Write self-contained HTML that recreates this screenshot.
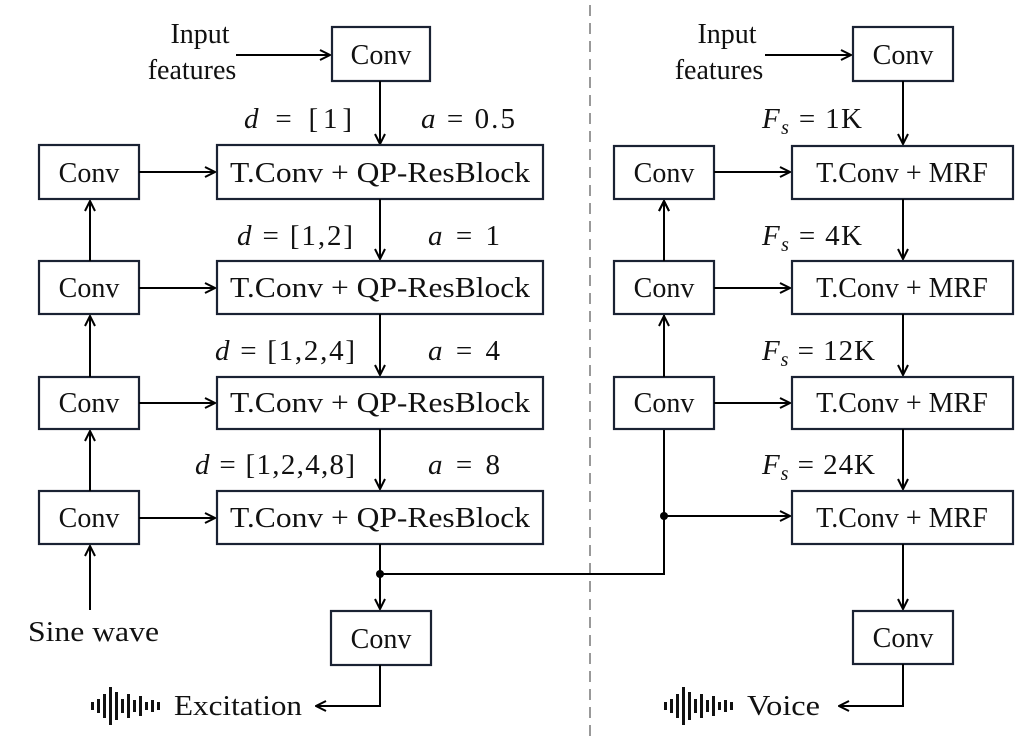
<!DOCTYPE html>
<html><head><meta charset="utf-8"><style>
html,body{margin:0;padding:0;background:#fff;}
svg{display:block;}
text{font-family:"Liberation Serif",serif;fill:#111;}
.bx{fill:#fff;stroke:#1a2233;stroke-width:2.2;}
.ln{stroke:#000;stroke-width:2;fill:none;}
.t{font-size:28px;}
.m{font-size:29px;}
.i{font-style:italic;}
</style></head><body>
<svg width="1025" height="743" viewBox="0 0 1025 743" xmlns="http://www.w3.org/2000/svg">
<defs>
<marker id="a" viewBox="0 0 12 12" refX="11" refY="6" markerWidth="12" markerHeight="12" markerUnits="userSpaceOnUse" orient="auto">
<path d="M1,1 L11,6 L1,11" stroke="#000" stroke-width="2" fill="none"/>
</marker>
</defs>

<line x1="590" y1="5" x2="590" y2="738" stroke="#999" stroke-width="2" stroke-dasharray="11,7"/>

<!-- LEFT -->
<text class="t" x="200" y="43" text-anchor="middle">Input</text>
<text class="t" x="192" y="79" text-anchor="middle">features</text>
<line class="ln" x1="236" y1="55" x2="330" y2="55" marker-end="url(#a)"/>
<rect class="bx" x="332" y="27" width="98" height="54"/>
<text class="t" x="381" y="64" text-anchor="middle">Conv</text>
<line class="ln" x1="380" y1="81" x2="380" y2="144" marker-end="url(#a)"/>

<rect class="bx" x="217" y="145" width="326" height="54"/>
<text class="t" x="230" y="182" textLength="300" lengthAdjust="spacingAndGlyphs">T.Conv + QP-ResBlock</text>
<rect class="bx" x="39" y="145" width="100" height="54"/>
<text class="t" x="89" y="182" text-anchor="middle">Conv</text>
<line class="ln" x1="139" y1="172" x2="215" y2="172" marker-end="url(#a)"/>

<rect class="bx" x="217" y="261" width="326" height="53"/>
<text class="t" x="230" y="297" textLength="300" lengthAdjust="spacingAndGlyphs">T.Conv + QP-ResBlock</text>
<rect class="bx" x="39" y="261" width="100" height="53"/>
<text class="t" x="89" y="297" text-anchor="middle">Conv</text>
<line class="ln" x1="139" y1="288" x2="215" y2="288" marker-end="url(#a)"/>

<rect class="bx" x="217" y="377" width="326" height="52"/>
<text class="t" x="230" y="412" textLength="300" lengthAdjust="spacingAndGlyphs">T.Conv + QP-ResBlock</text>
<rect class="bx" x="39" y="377" width="100" height="52"/>
<text class="t" x="89" y="412" text-anchor="middle">Conv</text>
<line class="ln" x1="139" y1="403" x2="215" y2="403" marker-end="url(#a)"/>

<rect class="bx" x="217" y="491" width="326" height="53"/>
<text class="t" x="230" y="527" textLength="300" lengthAdjust="spacingAndGlyphs">T.Conv + QP-ResBlock</text>
<rect class="bx" x="39" y="491" width="100" height="53"/>
<text class="t" x="89" y="527" text-anchor="middle">Conv</text>
<line class="ln" x1="139" y1="518" x2="215" y2="518" marker-end="url(#a)"/>

<line class="ln" x1="90" y1="261" x2="90" y2="201" marker-end="url(#a)"/>
<line class="ln" x1="90" y1="377" x2="90" y2="316" marker-end="url(#a)"/>
<line class="ln" x1="90" y1="491" x2="90" y2="431" marker-end="url(#a)"/>
<line class="ln" x1="90" y1="610" x2="90" y2="546" marker-end="url(#a)"/>
<text x="28" y="641" font-size="29" textLength="131" lengthAdjust="spacingAndGlyphs">Sine wave</text>

<line class="ln" x1="380" y1="199" x2="380" y2="259" marker-end="url(#a)"/>
<line class="ln" x1="380" y1="314" x2="380" y2="375" marker-end="url(#a)"/>
<line class="ln" x1="380" y1="429" x2="380" y2="489" marker-end="url(#a)"/>
<line class="ln" x1="380" y1="544" x2="380" y2="609" marker-end="url(#a)"/>
<circle cx="380" cy="574" r="4" fill="#000"/>
<polyline class="ln" points="380,574 664,574 664,201" marker-end="url(#a)"/>

<text class="m" x="244" y="128" textLength="108" lengthAdjust="spacing"><tspan class="i">d</tspan> = [1]</text>
<text class="m" x="421" y="128" textLength="94" lengthAdjust="spacing"><tspan class="i">a</tspan> = 0.5</text>
<text class="m" x="237" y="245" textLength="116" lengthAdjust="spacing"><tspan class="i">d</tspan> = [1,2]</text>
<text class="m" x="428" y="245" textLength="72" lengthAdjust="spacing"><tspan class="i">a</tspan> = 1</text>
<text class="m" x="215" y="360" textLength="140" lengthAdjust="spacing"><tspan class="i">d</tspan> = [1,2,4]</text>
<text class="m" x="428" y="360" textLength="72" lengthAdjust="spacing"><tspan class="i">a</tspan> = 4</text>
<text class="m" x="195" y="474" textLength="160" lengthAdjust="spacing"><tspan class="i">d</tspan> = [1,2,4,8]</text>
<text class="m" x="428" y="474" textLength="72" lengthAdjust="spacing"><tspan class="i">a</tspan> = 8</text>

<rect class="bx" x="331" y="611" width="100" height="54"/>
<text class="t" x="381" y="648" text-anchor="middle">Conv</text>
<polyline class="ln" points="380,665 380,706 316,706" marker-end="url(#a)"/>
<text x="174" y="715" font-size="29" textLength="128" lengthAdjust="spacingAndGlyphs">Excitation</text>
<g fill="#111">
<rect x="91" y="702" width="3" height="8"/><rect x="97" y="699" width="3" height="14"/><rect x="103" y="694" width="3" height="24"/>
<rect x="109" y="687" width="3" height="38"/><rect x="115" y="692" width="3" height="28"/><rect x="121" y="699" width="3" height="14"/>
<rect x="127" y="694" width="3" height="24"/><rect x="133" y="700" width="3" height="12"/><rect x="139" y="696" width="3" height="20"/>
<rect x="145" y="702" width="3" height="8"/><rect x="151" y="700" width="3" height="12"/><rect x="157" y="702" width="3" height="8"/>
</g>

<!-- RIGHT -->
<text class="t" x="727" y="43" text-anchor="middle">Input</text>
<text class="t" x="719" y="79" text-anchor="middle">features</text>
<line class="ln" x1="765" y1="55" x2="851" y2="55" marker-end="url(#a)"/>
<rect class="bx" x="853" y="27" width="100" height="54"/>
<text class="t" x="903" y="64" text-anchor="middle">Conv</text>
<line class="ln" x1="903" y1="81" x2="903" y2="144" marker-end="url(#a)"/>

<rect class="bx" x="792" y="146" width="221" height="53"/>
<text class="t" x="902" y="182" text-anchor="middle">T.Conv + MRF</text>
<rect class="bx" x="614" y="146" width="100" height="53"/>
<text class="t" x="664" y="182" text-anchor="middle">Conv</text>
<line class="ln" x1="714" y1="172" x2="790" y2="172" marker-end="url(#a)"/>

<rect class="bx" x="792" y="261" width="221" height="53"/>
<text class="t" x="902" y="297" text-anchor="middle">T.Conv + MRF</text>
<rect class="bx" x="614" y="261" width="100" height="53"/>
<text class="t" x="664" y="297" text-anchor="middle">Conv</text>
<line class="ln" x1="714" y1="288" x2="790" y2="288" marker-end="url(#a)"/>

<rect class="bx" x="792" y="377" width="221" height="52"/>
<text class="t" x="902" y="412" text-anchor="middle">T.Conv + MRF</text>
<rect class="bx" x="614" y="377" width="100" height="52"/>
<text class="t" x="664" y="412" text-anchor="middle">Conv</text>
<line class="ln" x1="714" y1="403" x2="790" y2="403" marker-end="url(#a)"/>

<rect class="bx" x="792" y="491" width="221" height="53"/>
<text class="t" x="902" y="527" text-anchor="middle">T.Conv + MRF</text>
<circle cx="664" cy="516" r="4" fill="#000"/>
<line class="ln" x1="664" y1="516" x2="790" y2="516" marker-end="url(#a)"/>

<line class="ln" x1="664" y1="261" x2="664" y2="201" marker-end="url(#a)"/>
<line class="ln" x1="664" y1="377" x2="664" y2="316" marker-end="url(#a)"/>

<line class="ln" x1="903" y1="199" x2="903" y2="259" marker-end="url(#a)"/>
<line class="ln" x1="903" y1="314" x2="903" y2="375" marker-end="url(#a)"/>
<line class="ln" x1="903" y1="429" x2="903" y2="489" marker-end="url(#a)"/>
<line class="ln" x1="903" y1="544" x2="903" y2="609" marker-end="url(#a)"/>

<text class="m" x="762" y="128" textLength="100" lengthAdjust="spacing"><tspan class="i">F</tspan><tspan class="i" font-size="20" dy="6">s</tspan><tspan dy="-6"> = 1K</tspan></text>
<text class="m" x="762" y="245" textLength="100" lengthAdjust="spacing"><tspan class="i">F</tspan><tspan class="i" font-size="20" dy="6">s</tspan><tspan dy="-6"> = 4K</tspan></text>
<text class="m" x="762" y="360" textLength="113" lengthAdjust="spacing"><tspan class="i">F</tspan><tspan class="i" font-size="20" dy="6">s</tspan><tspan dy="-6"> = 12K</tspan></text>
<text class="m" x="762" y="474" textLength="113" lengthAdjust="spacing"><tspan class="i">F</tspan><tspan class="i" font-size="20" dy="6">s</tspan><tspan dy="-6"> = 24K</tspan></text>

<rect class="bx" x="853" y="611" width="100" height="53"/>
<text class="t" x="903" y="647" text-anchor="middle">Conv</text>
<polyline class="ln" points="903,664 903,706 839,706" marker-end="url(#a)"/>
<text x="747" y="715" font-size="29" textLength="73" lengthAdjust="spacingAndGlyphs">Voice</text>
<g fill="#111">
<rect x="664" y="702" width="3" height="8"/><rect x="670" y="699" width="3" height="14"/><rect x="676" y="694" width="3" height="24"/>
<rect x="682" y="687" width="3" height="38"/><rect x="688" y="692" width="3" height="28"/><rect x="694" y="699" width="3" height="14"/>
<rect x="700" y="694" width="3" height="24"/><rect x="706" y="700" width="3" height="12"/><rect x="712" y="696" width="3" height="20"/>
<rect x="718" y="702" width="3" height="8"/><rect x="724" y="700" width="3" height="12"/><rect x="730" y="702" width="3" height="8"/>
</g>
</svg>
</body></html>
